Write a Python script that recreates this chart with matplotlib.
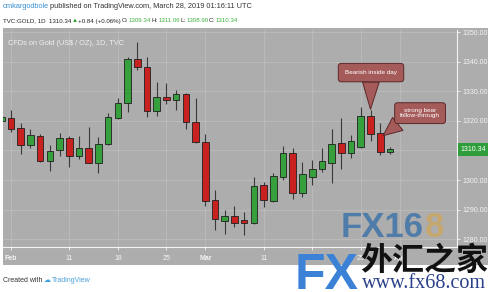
import numpy as np
import matplotlib
matplotlib.use('Agg')
import matplotlib.pyplot as plt
from matplotlib import font_manager
from matplotlib.patches import Rectangle

# дневные свечи GOLD, 31 янв - 28 мар 2019 (торговые дни подряд)
opens = [1320.0, 1321.0, 1317.5, 1312.0, 1314.8, 1306.3, 1310.0, 1314.2, 1308.0, 1310.7,
         1305.9, 1312.2, 1320.8, 1325.9, 1340.8, 1338.1, 1323.3, 1327.9, 1327.1, 1329.0,
         1319.6, 1313.0, 1293.2, 1286.3, 1287.8, 1286.4, 1285.4, 1298.2, 1293.0, 1301.1,
         1309.0, 1295.8, 1300.9, 1303.6, 1305.9, 1312.4, 1309.3, 1311.3, 1321.6, 1315.8,
         1309.34]
highs = [1325.0, 1323.6, 1319.2, 1317.2, 1315.4, 1312.0, 1315.8, 1314.9, 1314.9, 1318.0,
         1314.4, 1322.5, 1327.6, 1341.7, 1346.7, 1341.7, 1333.2, 1332.7, 1330.4, 1329.5,
         1327.6, 1315.4, 1296.8, 1289.9, 1291.2, 1289.1, 1301.1, 1299.3, 1302.3, 1311.5,
         1310.7, 1306.2, 1306.8, 1311.0, 1317.1, 1320.8, 1315.1, 1324.8, 1323.6, 1319.4,
         1311.06]
lows = [1316.0, 1316.3, 1308.8, 1310.9, 1306.0, 1303.2, 1308.2, 1304.3, 1307.0, 1305.6,
        1302.5, 1311.9, 1320.6, 1323.1, 1337.2, 1321.4, 1321.6, 1325.7, 1323.6, 1317.2,
        1312.6, 1291.2, 1283.3, 1281.8, 1284.0, 1281.3, 1285.1, 1291.0, 1292.7, 1300.0,
        1293.6, 1294.4, 1298.5, 1302.8, 1298.9, 1303.6, 1307.3, 1311.0, 1313.2, 1308.4,
        1308.90]
closes = [1321.2, 1317.1, 1312.0, 1315.1, 1306.3, 1309.9, 1314.1, 1308.0, 1310.7, 1305.9,
          1312.3, 1321.2, 1325.9, 1340.8, 1338.1, 1323.3, 1327.9, 1327.1, 1329.0, 1319.7,
          1312.8, 1293.0, 1286.7, 1287.8, 1285.4, 1285.4, 1298.1, 1293.2, 1301.4, 1309.0,
          1295.5, 1302.0, 1303.6, 1306.4, 1312.2, 1309.3, 1313.1, 1321.7, 1315.4, 1309.6,
          1310.34]

# подписи оси времени (индекс торгового дня от 1 февраля)
tick_days = [0, 6, 11, 16, 20, 26, 31, 36, 40]
tick_labels = ['Feb', '11', '18', '25', 'Mar', '11', '18', '25', 'Apr']
price_ticks = [1280, 1290, 1300, 1310, 1320, 1330, 1340, 1350]
last_price = 1310.34

W, H = 488, 292
BG = '#adadad'
GREEN = '#36a03c'
RED = '#c8211f'

names = {f.name for f in font_manager.fontManager.ttflist}
NARROW = 'Liberation Sans Narrow' if 'Liberation Sans Narrow' in names else 'Liberation Sans'
FAM = [NARROW, 'DejaVu Sans']


def fx(x):
    return x / W


def fy(y):
    return 1 - y / H


fig = plt.figure(figsize=(W / 100, H / 100), dpi=100, facecolor='white')
renderer = fig.canvas.get_renderer()
fig.add_artist(Rectangle((fx(3), fy(265)), fx(485), (265 - 28) / H,
                         transform=fig.transFigure, fc=BG, ec='none', zorder=0))

ax = fig.add_axes([fx(3), fy(247), (457 - 3) / W, (247 - 30) / H])
ax.set_facecolor(BG)

x = np.arange(len(opens)) - 1
o = np.array(opens)
c = np.array(closes)
colors = [GREEN if cc >= oo else RED for oo, cc in zip(o, c)]
ax.vlines(x, lows, highs, color='#3a3a3a', linewidth=0.8, zorder=2)
ax.bar(x, np.maximum(np.abs(c - o), 0.25), bottom=np.minimum(o, c), width=0.68,
       color=colors, edgecolor='#202020', linewidth=0.6, zorder=3)

ax.set_xlim(-0.82, 45.9)
ax.set_ylim(1277.4, 1350.68)
ax.set_xticks(tick_days)
ax.set_xticklabels(tick_labels)
for lbl in ax.get_xticklabels():
    if lbl.get_text() in ('Feb', 'Mar', 'Apr'):
        lbl.set_fontweight('bold')
ax.set_yticks(price_ticks)
# подпись 1310.00 закрыта меткой последней цены
ax.set_yticklabels(['' if abs(v - last_price) < 5 else f'{v:.2f}' for v in price_ticks])
ax.yaxis.tick_right()
ax.tick_params(axis='both', colors='#f4f4f4', labelsize=5, length=2, width=0.6, pad=2)
ax.tick_params(axis='x', pad=4)
for lbl in ax.get_xticklabels() + ax.get_yticklabels():
    lbl.set_family(FAM)
ax.grid(True, color='#bcbcbc', linewidth=0.6)
ax.set_axisbelow(True)
for side in ('top', 'left'):
    ax.spines[side].set_visible(False)
for side in ('bottom', 'right'):
    ax.spines[side].set_color('#f4f4f4')
    ax.spines[side].set_linewidth(0.8)

ax.text(0.011, 0.94, 'CFDs on Gold (US$ / OZ), 1D, TVC', transform=ax.transAxes,
        fontsize=5.3, color='#f0f0f0', va='center', family=FAM)

# метка последней цены
ax.annotate(f'{last_price:.2f}', xy=(1.0, last_price), xycoords=('axes fraction', 'data'),
            xytext=(2.5, 0), textcoords='offset points', fontsize=5, color='white',
            va='center', ha='left', family=FAM, annotation_clip=False,
            bbox=dict(boxstyle='square,pad=0.4', fc='#2f9e3a', ec='none'))

# выноски
CALL = '#a65b5b'
box = dict(boxstyle='round,pad=1.05,rounding_size=0.5', fc=CALL, ec='#5a2828', lw=0.7)
arrow = dict(arrowstyle='wedge,tail_width=1.0,shrink_factor=0.5', mutation_scale=12,
             fc=CALL, ec='#5a2828', lw=0.7, shrinkA=0, shrinkB=0)
ax.annotate('Bearish inside day', xy=(37, 1323.9), xytext=(37.05, 1336.3),
            fontsize=4.6, color='white', ha='center', va='center', family=FAM,
            bbox=box, arrowprops=arrow, zorder=6)
ax.annotate('strong bear\nfollow-through', xy=(38.3, 1315.0), xytext=(42.1, 1322.6),
            fontsize=4.6, color='white', ha='center', va='center', family=FAM,
            linespacing=1.0, bbox=dict(box, boxstyle='round,pad=0.85,rounding_size=0.5'),
            arrowprops=dict(arrow, relpos=(0.2, 0.25)), zorder=6, annotation_clip=False)


def chain(x0, y, parts, size, gap=1.0):
    # кусочки текста разного цвета один за другим
    xp = x0
    for s, col in parts:
        t = fig.text(fx(xp), fy(y), s, fontsize=size, color=col, va='center', family=FAM)
        xp = t.get_window_extent(renderer).x1 + gap


chain(3, 7, [('omkargodbole', '#3a8fd0'),
             ('published on TradingView.com, March 28, 2019 01:16:11 UTC', '#333333')], 5.3)
chain(3, 21, [('TVC:GOLD, 1D  1310.34', '#222222'), ('▲', '#2aa02a'),
              ('+0.84 (+0.06%)', '#222222'), ('O:', '#222222'), ('1309.34', '#3fae3f'),
              ('H:', '#222222'), ('1311.06', '#3fae3f'), ('L:', '#222222'),
              ('1308.90', '#3fae3f'), ('C:', '#222222'), ('1310.34', '#3fae3f')], 4.4, gap=0.5)
chain(3, 280, [('Created with', '#333333'), ('☁', '#3ca0e0'), ('TradingView', '#4a9fd8')], 5)

# водяной знак
fig.text(fx(341), fy(237), 'FX16', fontsize=25, fontweight='bold', color='#4577a8',
         alpha=0.9, family='Liberation Sans', va='baseline', zorder=10)
fig.text(fx(425), fy(237), '8', fontsize=25, fontweight='bold', color='#c9a767',
         alpha=0.9, family='Liberation Sans', va='baseline', zorder=10)
fig.text(fx(295), fy(289), 'FX', fontsize=36, fontweight='bold', color='#3b82d6',
         family='Liberation Sans', va='baseline', zorder=10)
fig.text(fx(360), fy(261), '外汇之家', fontsize=23, fontweight='bold', color='#111111',
         family=['Noto Sans CJK SC', 'DejaVu Sans'], va='center', zorder=10)
fig.text(fx(362), fy(288), 'www.fx68.com', fontsize=14.5, color='#2a3f8a',
         family='Liberation Serif', va='baseline', zorder=10)

fig.savefig('out.png', dpi=100, facecolor='white')
